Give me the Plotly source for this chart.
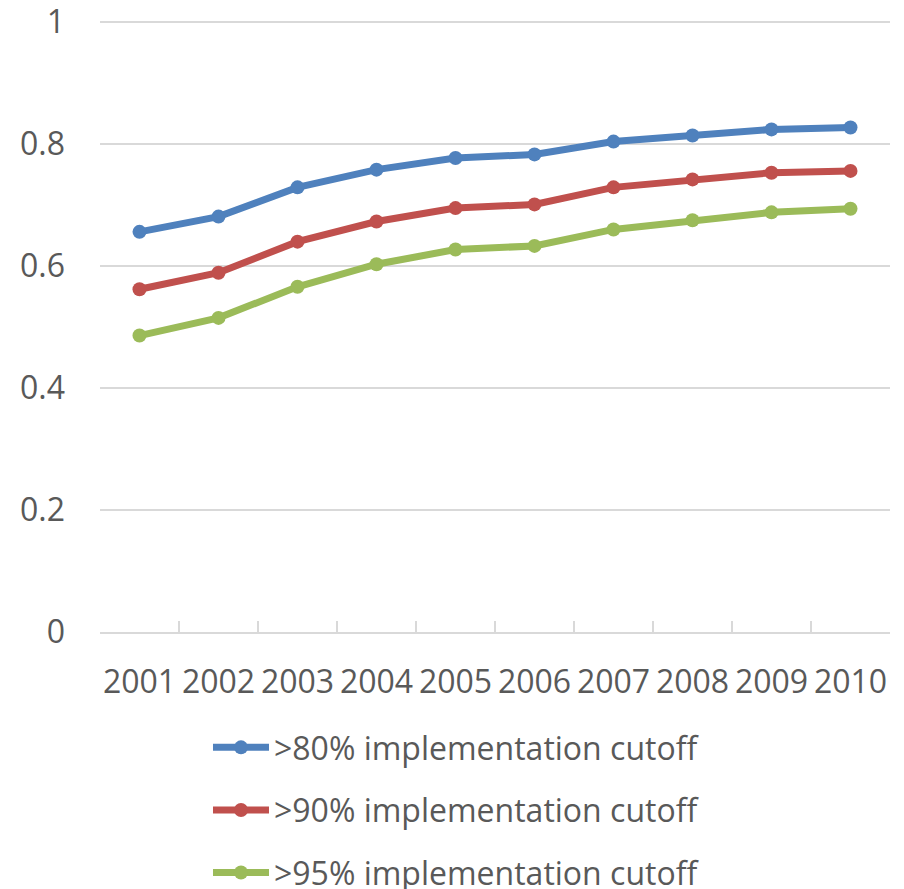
import plotly.graph_objects as go

years = ["2001", "2002", "2003", "2004", "2005", "2006", "2007", "2008", "2009", "2010"]
cutoff_80 = [0.656, 0.681, 0.729, 0.758, 0.777, 0.783, 0.804, 0.814, 0.824, 0.827]
cutoff_90 = [0.562, 0.589, 0.640, 0.673, 0.695, 0.701, 0.729, 0.742, 0.753, 0.756]
cutoff_95 = [0.486, 0.515, 0.566, 0.603, 0.627, 0.633, 0.660, 0.675, 0.688, 0.694]

series_names = [">80% implementation cutoff", ">90% implementation cutoff", ">95% implementation cutoff"]
series_colors = ["#4F81BD", "#C0504D", "#9BBB59"]
series_values = [cutoff_80, cutoff_90, cutoff_95]

FONT = "Open Sans"
TEXT_COLOR = "#595959"
GRID_COLOR = "#D9D9D9"
FS = 32

fig = go.Figure()
for i, (name, color, vals) in enumerate(zip(series_names, series_colors, series_values)):
    fig.add_trace(go.Scatter(
        x=years, y=vals, name=name, mode="lines+markers",
        line=dict(color=color, width=7),
        marker=dict(color=color, size=14),
        legendgroup=f"g{i}",
    ))

fig.update_layout(
    width=904, height=889,
    margin=dict(l=100, r=14, t=19, b=257, autoexpand=False),
    paper_bgcolor="white", plot_bgcolor="white",
    font=dict(family=FONT, size=FS, color=TEXT_COLOR),
    showlegend=True,
    legend=dict(
        orientation="v",
        x=0.1367, xanchor="left", y=-0.1436, yanchor="top",
        font=dict(family=FONT, size=FS, color=TEXT_COLOR),
        tracegroupgap=18, itemwidth=56, bgcolor="rgba(0,0,0,0)",
    ),
    xaxis=dict(
        type="category", range=[-0.5, len(years) - 0.5],
        showgrid=False, showline=True, linecolor=GRID_COLOR, linewidth=1.5,
        ticks="inside", tickson="boundaries", ticklen=11, tickcolor=GRID_COLOR, tickwidth=1.5,
        tickangle=0, automargin=False,
        ticklabelstandoff=21, tickfont=dict(size=FS, color=TEXT_COLOR),
    ),
    yaxis=dict(
        range=[0, 1.005], tickvals=[0, 0.2, 0.4, 0.6, 0.8, 1], ticktext=["0", "0.2", "0.4", "0.6", "0.8", "1"],
        showgrid=True, gridcolor=GRID_COLOR, gridwidth=1.5, zeroline=False, showline=False,
        ticks="", automargin=False, ticklabelstandoff=34, ticklabeloverflow="allow",
        tickfont=dict(size=FS, color=TEXT_COLOR),
    ),
)

fig.write_html("out.html")
